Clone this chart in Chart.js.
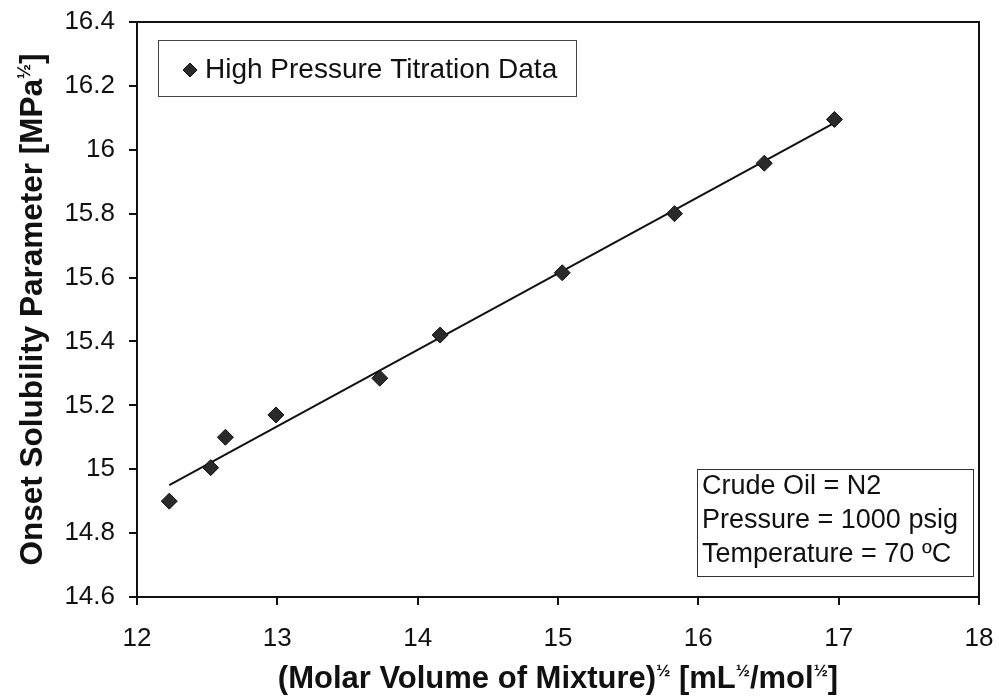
<!DOCTYPE html>
<html>
<head>
<meta charset="utf-8">
<title>Onset Solubility Parameter</title>
<script src="https://cdn.jsdelivr.net/npm/chart.js@4.4.0/dist/chart.umd.min.js"></script>
<style>
  html, body { margin: 0; padding: 0; background: #fff; }
  #wrap { width: 999px; height: 699px; }
</style>
</head>
<body>
<div id="wrap"><canvas id="chart" width="999" height="699"></canvas></div>
<script>
/* high pressure titration points */
var molarVolumeSqrt = [12.23, 12.525, 12.63, 12.99, 13.73, 14.16, 15.03, 15.83, 16.47, 16.97];
var onsetSolubility = [14.90, 15.005, 15.10, 15.17, 15.285, 15.42, 15.615, 15.80, 15.958, 16.095];

/* linear trend line, ends */
var fitX = [12.23, 16.97];
var fitY = [14.95, 16.084];

var xTicks = [12, 13, 14, 15, 16, 17, 18];
var yTicks = [14.6, 14.8, 15, 15.2, 15.4, 15.6, 15.8, 16, 16.2, 16.4];

var legendLabel = 'High Pressure Titration Data';
var conditionLines = ['Crude Oil = N2', 'Pressure = 1000 psig', 'Temperature = 70 \u00baC'];

/* title pieces: [text, superscript?] */
var xTitle = [['(Molar Volume of Mixture)', false], ['\u00bd', true], [' [mL', false], ['\u00bd', true], ['/mol', false], ['\u00bd', true], [']', false]];
var yTitle = [['Onset Solubility Parameter [MPa', false], ['\u00bd', true], [']', false]];

(function () {
  'use strict';

  var FONT = '"Liberation Sans", Arial, sans-serif';
  var INK = '#111';

  function drawRich(ctx, parts, cx, cy, size, supSize) {
    var total = 0;
    var widths = parts.map(function (p) {
      ctx.font = 'bold ' + (p[1] ? supSize : size) + 'px ' + FONT;
      var w = ctx.measureText(p[0]).width;
      total += w;
      return w;
    });
    var x = cx - total / 2;
    var base = cy + size * 0.36;
    ctx.textAlign = 'left';
    ctx.textBaseline = 'alphabetic';
    parts.forEach(function (p, i) {
      ctx.font = 'bold ' + (p[1] ? supSize : size) + 'px ' + FONT;
      ctx.fillText(p[0], x, p[1] ? base - size * 0.4 : base);
      x += widths[i];
    });
  }

  function diamond(ctx, x, y, r) {
    ctx.beginPath();
    ctx.moveTo(x, y - r);
    ctx.lineTo(x + r, y);
    ctx.lineTo(x, y + r);
    ctx.lineTo(x - r, y);
    ctx.closePath();
    ctx.fill();
    ctx.stroke();
  }

  /* plot frame, titles, legend box and the conditions note */
  var decor = {
    id: 'decor',
    afterDraw: function (chart) {
      var ctx = chart.ctx;
      var a = chart.chartArea;
      ctx.save();

      ctx.strokeStyle = INK;
      ctx.lineWidth = 2;
      ctx.strokeRect(a.left, a.top, a.right - a.left, a.bottom - a.top);

      ctx.fillStyle = INK;
      drawRich(ctx, xTitle, (a.left + a.right) / 2, 677, 31, 17);

      ctx.save();
      ctx.translate(31, (a.top + a.bottom) / 2);
      ctx.rotate(-Math.PI / 2);
      drawRich(ctx, yTitle, 0, 0, 31.5, 18);
      ctx.restore();

      // legend
      ctx.lineWidth = 1;
      ctx.strokeStyle = '#444';
      ctx.strokeRect(158.5, 40.5, 418, 56);
      ctx.fillStyle = '#2a2a2a';
      ctx.strokeStyle = INK;
      diamond(ctx, 190, 70, 7);
      ctx.fillStyle = INK;
      ctx.font = '28px ' + FONT;
      ctx.textAlign = 'left';
      ctx.textBaseline = 'middle';
      ctx.fillText(legendLabel, 205, 70);

      // conditions note
      ctx.strokeStyle = '#333';
      ctx.strokeRect(697.5, 469.5, 276, 107);
      ctx.font = '27px ' + FONT;
      conditionLines.forEach(function (t, i) {
        ctx.fillText(t, 702, 487 + i * 34);
      });

      ctx.restore();
    }
  };

  var tickFont = { family: FONT, size: 26 };

  new Chart(document.getElementById('chart'), {
    type: 'scatter',
    data: {
      datasets: [
        {
          label: legendLabel,
          data: molarVolumeSqrt.map(function (x, i) { return { x: x, y: onsetSolubility[i] }; }),
          pointStyle: 'rectRot',
          pointRadius: 8,
          backgroundColor: '#2a2a2a',
          borderColor: INK,
          borderWidth: 1,
          showLine: false,
          order: 1
        },
        {
          label: 'Linear fit',
          type: 'line',
          data: fitX.map(function (x, i) { return { x: x, y: fitY[i] }; }),
          borderColor: INK,
          borderWidth: 2,
          pointRadius: 0,
          fill: false,
          order: 2
        }
      ]
    },
    options: {
      responsive: false,
      animation: false,
      layout: { padding: { top: 22, right: 20, left: 0, bottom: 0 } },
      plugins: {
        legend: { display: false },
        tooltip: { enabled: false }
      },
      scales: {
        x: {
          type: 'linear',
          min: 12, max: 18,
          afterFit: function (s) {
            s.height = 102;
            s.paddingLeft = 0;
            s.paddingRight = 0;
          },
          afterBuildTicks: function (s) { s.ticks = xTicks.map(function (v) { return { value: v }; }); },
          grid: { drawOnChartArea: false, drawTicks: true, tickLength: 8, color: INK, lineWidth: 2 },
          border: { color: INK, width: 2 },
          ticks: { color: INK, font: tickFont, padding: 18, maxRotation: 0, callback: function (v) { return String(v); } }
        },
        y: {
          type: 'linear',
          min: 14.6, max: 16.4,
          afterFit: function (s) {
            s.width = 137;
            s.paddingTop = 0;
            s.paddingBottom = 0;
          },
          afterBuildTicks: function (s) { s.ticks = yTicks.map(function (v) { return { value: v }; }); },
          grid: { drawOnChartArea: false, drawTicks: true, tickLength: 8, color: INK, lineWidth: 2 },
          border: { color: INK, width: 2 },
          ticks: { color: INK, font: tickFont, padding: 14, callback: function (v) { return String(v); } }
        }
      }
    },
    plugins: [decor]
  });
})();
</script>
</body>
</html>
